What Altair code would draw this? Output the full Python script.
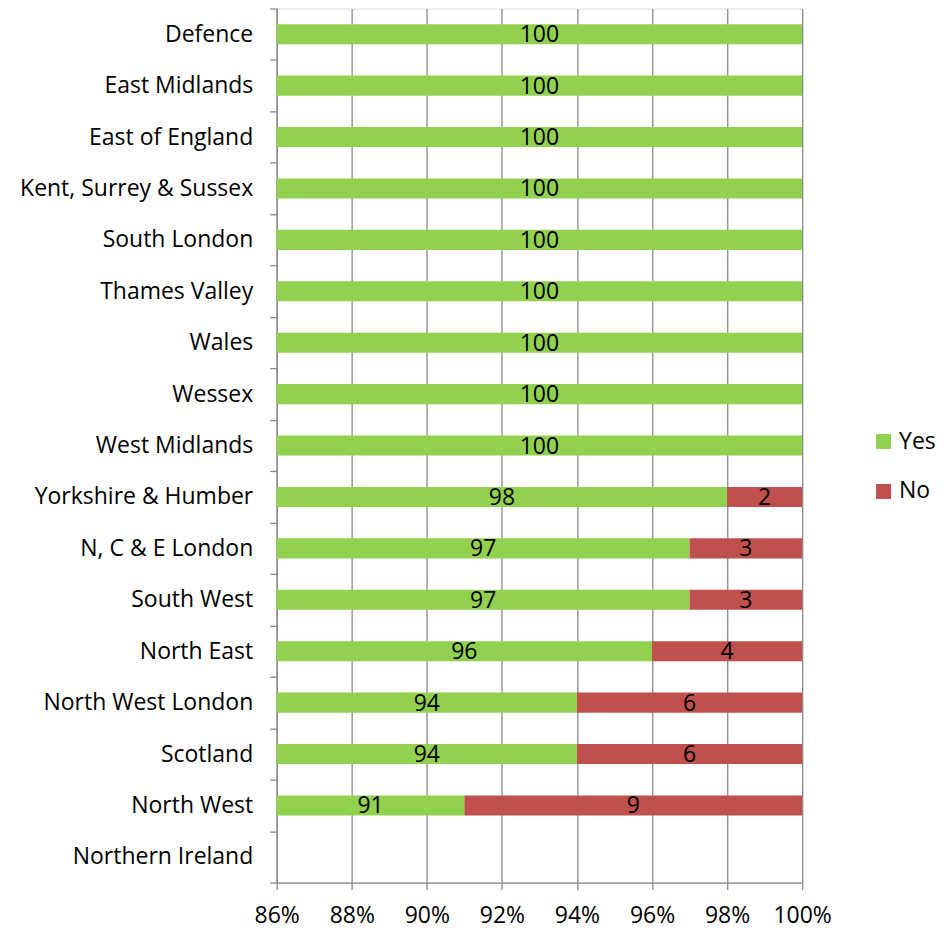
import altair as alt
import pandas as pd

regions = ["Defence", "East Midlands ", "East of England", "Kent, Surrey & Sussex",
           "South London", "Thames Valley", "Wales", "Wessex", "West Midlands",
           "Yorkshire & Humber", "N, C & E London", "South West", "North East",
           "North West London", "Scotland", "North West", "Northern Ireland"]
yes_vals = [100, 100, 100, 100, 100, 100, 100, 100, 100, 98, 97, 97, 96, 94, 94, 91, None]
no_vals = [0, 0, 0, 0, 0, 0, 0, 0, 0, 2, 3, 3, 4, 6, 6, 9, None]
x_ticks = [86, 88, 90, 92, 94, 96, 98, 100]
series = ["Yes", "No"]
colors = ["#92D050", "#C0504D"]

XMIN, XMAX = x_ticks[0], x_ticks[-1]
rows = []
for r, y, n in zip(regions, yes_vals, no_vals):
    if y is None:
        continue
    rows.append({"region": r, "series": "Yes", "start": 0, "end": y, "value": y,
                 "mid": (max(0, XMIN) + y) / 2})
    if n and n > 0:
        rows.append({"region": r, "series": "No", "start": y, "end": y + n, "value": n,
                     "mid": (max(y, XMIN) + y + n) / 2})
df = pd.DataFrame(rows)

FONT = "Open Sans"
FS = 23
GRID = "#898989"

y_scale = alt.Scale(domain=regions, paddingInner=0, paddingOuter=0)

y_enc = alt.Y("region:N", sort=regions, scale=y_scale,
              axis=alt.Axis(title=None, tickBand="extent", tickSize=7, tickColor=GRID,
                            tickWidth=1.3, domainWidth=1.3,
                            domainColor=GRID, labelFontSize=FS, labelFont=FONT,
                            labelColor="#000000", labelPadding=17, grid=False,
                            labelLimit=400))

x_scale = alt.Scale(domain=[XMIN, XMAX], nice=False, zero=False)

bars = alt.Chart(df).mark_bar(clip=True, height=alt.RelativeBandSize(0.39)).encode(
    x=alt.X("start:Q", scale=x_scale,
            axis=alt.Axis(title=None, values=x_ticks, labelExpr="datum.value + '%'",
                          grid=True, gridColor=GRID, gridWidth=1.3, tickSize=7,
                          tickWidth=1.3, domainWidth=1.3, labelFlush=False,
                          tickColor=GRID, domainColor=GRID, labelFontSize=FS,
                          labelFont=FONT, labelColor="#000000", labelPadding=15)),
    x2="end:Q",
    y=y_enc,
    color=alt.Color("series:N", scale=alt.Scale(domain=series, range=colors),
                    legend=alt.Legend(title=None, orient="none", legendX=596, legendY=422,
                                      symbolType="square", symbolSize=225,
                                      symbolStrokeWidth=0, labelFontSize=FS,
                                      labelFont=FONT, labelColor="#000000",
                                      rowPadding=26, labelOffset=4)),
)

labels = alt.Chart(df).mark_text(font=FONT, fontSize=FS, color="#000000",
                                 align="center", baseline="middle", dy=1).encode(
    x=alt.X("mid:Q", scale=x_scale),
    y=alt.Y("region:N", sort=regions, scale=y_scale),
    text=alt.Text("value:Q"),
)

chart = alt.layer(bars, labels).properties(
    width=526, height=875,
    autosize=alt.AutoSizeParams(type="none"),
    padding={"left": 269, "top": 0, "right": 140, "bottom": 48},
).configure_view(stroke=None).configure(background="white")

chart.save("out.html", embed_options={"renderer": "svg", "actions": False})
